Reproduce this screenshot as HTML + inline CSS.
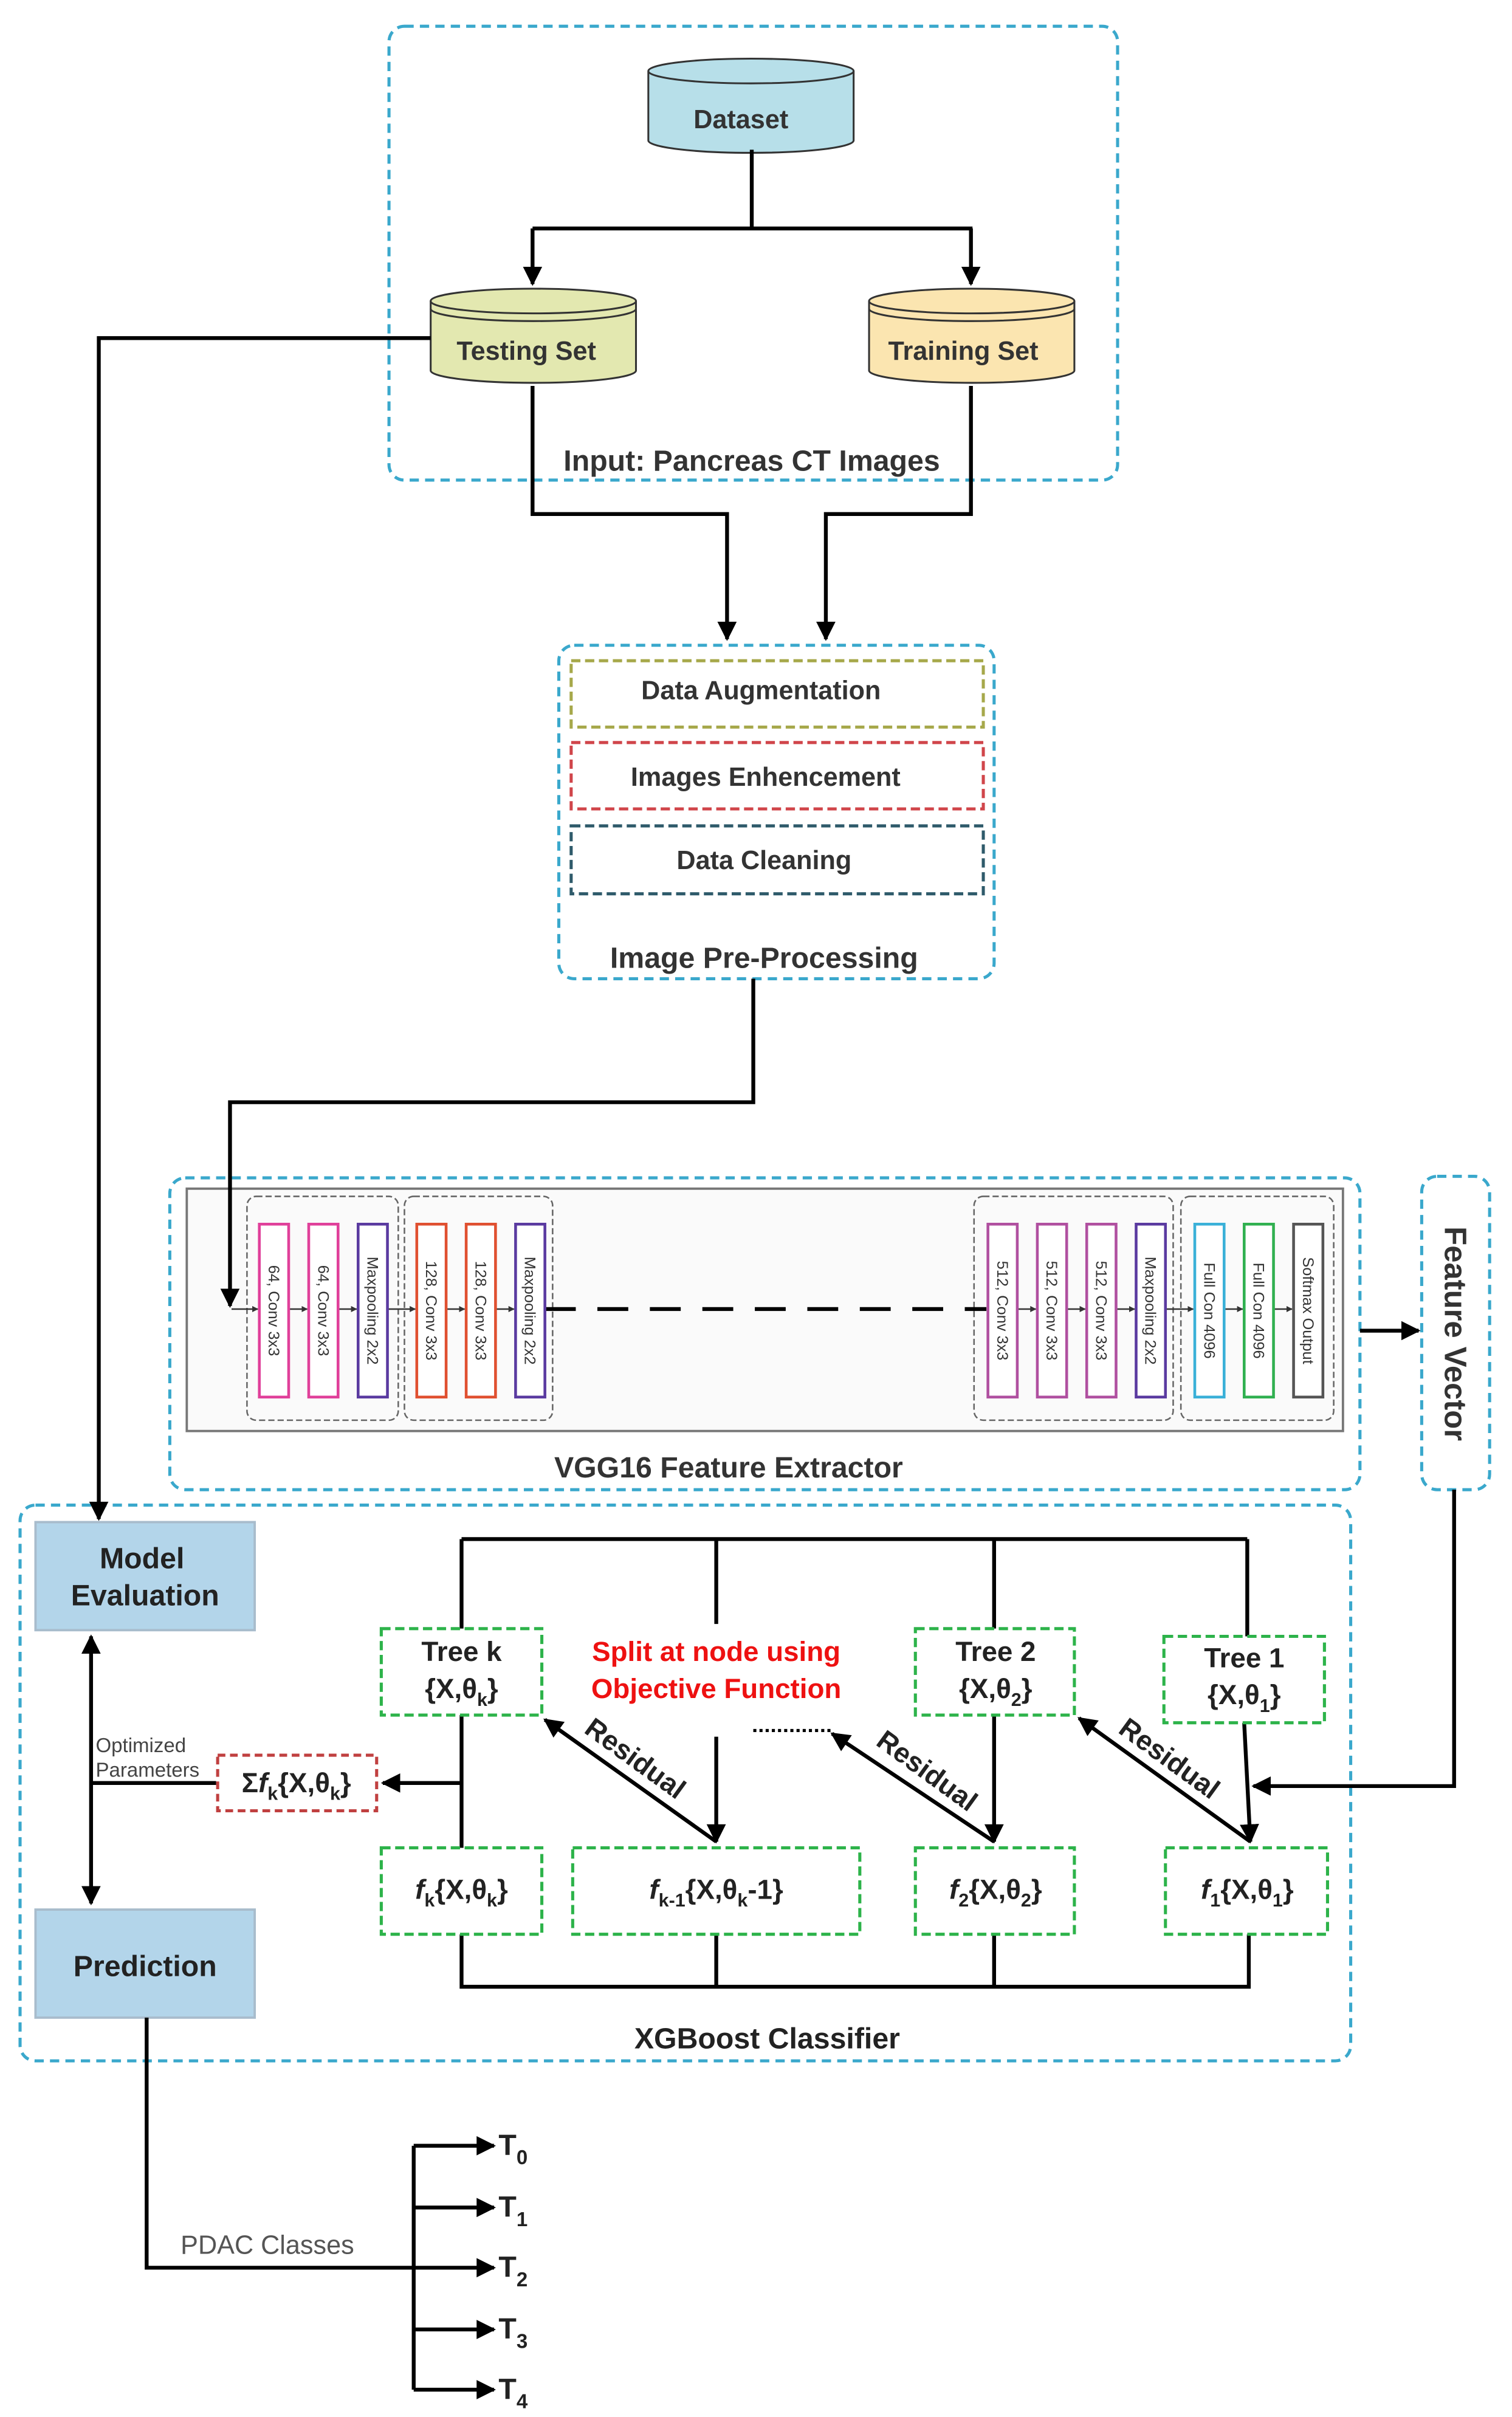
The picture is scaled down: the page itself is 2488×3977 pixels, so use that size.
<!DOCTYPE html>
<html><head><meta charset="utf-8"><style>
html,body{margin:0;padding:0;background:#fff;}
svg{display:block;}
text{font-family:"Liberation Sans",Arial,sans-serif;}
</style></head><body>
<svg width="2488" height="3977" viewBox="0 0 979.5 1565.7" preserveAspectRatio="none" xmlns="http://www.w3.org/2000/svg">
<defs>
<marker id="a" viewBox="0 0 10 10" refX="9" refY="5" markerWidth="5" markerHeight="5" orient="auto-start-reverse" markerUnits="strokeWidth"><path d="M0,0 L10,5 L0,10 z" fill="#000"/></marker>
<marker id="s" viewBox="0 0 10 10" refX="9" refY="5" markerWidth="4" markerHeight="4" orient="auto" markerUnits="strokeWidth"><path d="M0,0 L10,5 L0,10 z" fill="#333"/></marker>
</defs>
<g fill="none" stroke="#3aa8cc" stroke-width="2" stroke-dasharray="6,4">
<rect x="252" y="17" width="472" height="294" rx="10"/>
<rect x="362" y="418" width="282" height="216" rx="10"/>
<rect x="110" y="763" width="771" height="202" rx="10"/>
<rect x="921" y="762" width="44" height="203" rx="10"/>
<rect x="13" y="975" width="862" height="360" rx="10"/>
</g>
<g stroke="#333" stroke-width="1.2">
<path d="M420,46 v45 a66.5,8 0 0 0 133,0 v-45" fill="#b7dfe9"/>
<ellipse cx="486.5" cy="46" rx="66.5" ry="8" fill="#b7dfe9"/>
<path d="M279,195 v45 a66.5,8 0 0 0 133,0 v-45" fill="#e3e8b0"/>
<ellipse cx="345.5" cy="195" rx="66.5" ry="8" fill="#e3e8b0"/>
<path d="M279,200 a66.5,8 0 0 0 133,0" fill="none"/>
<path d="M563,195 v45 a66.5,8 0 0 0 133,0 v-45" fill="#fbe5b0"/>
<ellipse cx="629.5" cy="195" rx="66.5" ry="8" fill="#fbe5b0"/>
<path d="M563,200 a66.5,8 0 0 0 133,0" fill="none"/>
</g>
<g font-weight="bold" fill="#333" font-size="17" text-anchor="middle">
<text x="480" y="83">Dataset</text>
<text x="341" y="233">Testing Set</text>
<text x="624" y="233">Training Set</text>
<text x="487" y="305" font-size="19">Input: Pancreas CT Images</text>
</g>
<!-- preprocessing -->
<g fill="none" stroke-width="2" stroke-dasharray="6,3">
<rect x="370" y="428" width="267" height="43" stroke="#a6a84a"/>
<rect x="370" y="481" width="267" height="43" stroke="#d0454a"/>
<rect x="370" y="535" width="267" height="44" stroke="#2e5a6a"/>
</g>
<g font-weight="bold" fill="#333" font-size="17" text-anchor="middle">
<text x="493" y="453">Data Augmentation</text>
<text x="496" y="509">Images Enhencement</text>
<text x="495" y="563">Data Cleaning</text>
<text x="495" y="627" font-size="19">Image Pre-Processing</text>
</g>
<!-- VGG -->
<rect x="121" y="770" width="749" height="157" fill="#fafafa" stroke="#777" stroke-width="1.5"/>
<g fill="none" stroke="#666" stroke-width="1" stroke-dasharray="4,2">
<rect x="160" y="775" width="98" height="145" rx="6"/>
<rect x="262" y="775" width="96" height="145" rx="6"/>
<rect x="631" y="775" width="129" height="145" rx="6"/>
<rect x="765" y="775" width="99" height="145" rx="6"/>
</g>
<g stroke="#333" stroke-width="1" fill="none">
<path d="M150,848 H167" marker-end="url(#s)"/>
<path d="M187,848 H199" marker-end="url(#s)"/>
<path d="M219,848 H231" marker-end="url(#s)"/>
<path d="M251,848 H269" marker-end="url(#s)"/>
<path d="M289,848 H301" marker-end="url(#s)"/>
<path d="M321,848 H333" marker-end="url(#s)"/>
<path d="M659,848 H671" marker-end="url(#s)"/>
<path d="M691,848 H703" marker-end="url(#s)"/>
<path d="M723,848 H735" marker-end="url(#s)"/>
<path d="M755,848 H773" marker-end="url(#s)"/>
<path d="M793,848 H805" marker-end="url(#s)"/>
<path d="M825,848 H837" marker-end="url(#s)"/>
</g>
<path d="M353,848 H639" stroke="#000" stroke-width="2.5" stroke-dasharray="20,14" fill="none"/>
<g stroke-width="1.8" fill="#fff">
<rect x="168" y="793" width="19" height="112" stroke="#e0409a"/>
<rect x="200" y="793" width="19" height="112" stroke="#e0409a"/>
<rect x="232" y="793" width="19" height="112" stroke="#5a3aa0"/>
<rect x="270" y="793" width="19" height="112" stroke="#e05030"/>
<rect x="302" y="793" width="19" height="112" stroke="#e05030"/>
<rect x="334" y="793" width="19" height="112" stroke="#5a3aa0"/>
<rect x="640" y="793" width="19" height="112" stroke="#b050a0"/>
<rect x="672" y="793" width="19" height="112" stroke="#b050a0"/>
<rect x="704" y="793" width="19" height="112" stroke="#b050a0"/>
<rect x="736" y="793" width="19" height="112" stroke="#5a3aa0"/>
<rect x="774" y="793" width="19" height="112" stroke="#3ab0d8"/>
<rect x="806" y="793" width="19" height="112" stroke="#30b050"/>
<rect x="838" y="793" width="19" height="112" stroke="#555"/>
</g>
<g font-family="Liberation Serif,serif" font-size="10" fill="#333" text-anchor="middle">
<text transform="translate(174,849) rotate(90)">64, Conv 3x3</text>
<text transform="translate(206,849) rotate(90)">64, Conv 3x3</text>
<text transform="translate(238,849) rotate(90)">Maxpooling 2x2</text>
<text transform="translate(276,849) rotate(90)">128, Conv 3x3</text>
<text transform="translate(308,849) rotate(90)">128, Conv 3x3</text>
<text transform="translate(340,849) rotate(90)">Maxpooling 2x2</text>
<text transform="translate(646,849) rotate(90)">512, Conv 3x3</text>
<text transform="translate(678,849) rotate(90)">512, Conv 3x3</text>
<text transform="translate(710,849) rotate(90)">512, Conv 3x3</text>
<text transform="translate(742,849) rotate(90)">Maxpooling 2x2</text>
<text transform="translate(780,849) rotate(90)">Full Con 4096</text>
<text transform="translate(812,849) rotate(90)">Full Con 4096</text>
<text transform="translate(844,849) rotate(90)">Softmax Output</text>
</g>
<g font-weight="bold" fill="#333" text-anchor="middle">
<text x="472" y="957" font-size="19">VGG16 Feature Extractor</text>
<text transform="translate(936,864) rotate(90)" font-size="20">Feature Vector</text>
</g>
<!-- connectors -->
<g fill="none" stroke="#000" stroke-width="2.5">
<path d="M487,97 V148 M345,148 H630"/>
<path d="M345,148 V184" marker-end="url(#a)"/>
<path d="M629,148 V184" marker-end="url(#a)"/>
<path d="M345,250 V333 H471 V414" marker-end="url(#a)"/>
<path d="M629,250 V333 H535 V414" marker-end="url(#a)"/>
<path d="M279,219 H64 V984" marker-end="url(#a)"/>
<path d="M488,634 V714 H149 V846" marker-end="url(#a)"/>
<path d="M881,862 H919" marker-end="url(#a)"/>
<path d="M942,965 V1157 H812" marker-end="url(#a)"/>
</g>
<!-- XGBoost -->
<rect x="23" y="986" width="142" height="70" fill="#b3d5ea" stroke="#a8bccc" stroke-width="1.5"/>
<rect x="23" y="1237" width="142" height="70" fill="#b3d5ea" stroke="#a8bccc" stroke-width="1.5"/>
<g font-weight="bold" fill="#222" text-anchor="middle" font-size="19">
<text x="92" y="1016">Model</text>
<text x="94" y="1040">Evaluation</text>
<text x="94" y="1280">Prediction</text>
<text x="497" y="1327">XGBoost Classifier</text>
</g>
<g fill="none" stroke="#000" stroke-width="2.5">
<path d="M59,1060 V1233" marker-start="url(#a)" marker-end="url(#a)"/>
<path d="M59,1155 H140"/>
<path d="M299,1155 H248" marker-end="url(#a)"/>
<path d="M299,997 H808 M299,997 V1055 M464,997 V1052 M644,997 V1055 M808,997 V1060"/>
<path d="M464,1125 V1193" marker-end="url(#a)"/>
<path d="M299,1111 V1197"/>
<path d="M644,1111 V1193" marker-end="url(#a)"/>
<path d="M806,1116 L810,1193" marker-end="url(#a)"/>
<path d="M464,1193 L353,1114" marker-end="url(#a)"/>
<path d="M644,1193 L539,1123" marker-end="url(#a)"/>
<path d="M810,1193 L699,1113" marker-end="url(#a)"/>
<path d="M299,1253 V1287 H809 V1253 M464,1253 V1287 M644,1253 V1287"/>
<path d="M95,1307 V1469 H268 M268,1390 V1548"/>
<path d="M268,1390 H320" marker-end="url(#a)"/>
<path d="M268,1430 H320" marker-end="url(#a)"/>
<path d="M268,1469 H320" marker-end="url(#a)"/>
<path d="M268,1509 H320" marker-end="url(#a)"/>
<path d="M268,1548 H320" marker-end="url(#a)"/>
</g>
<path d="M488,1121 H540" stroke="#000" stroke-width="2" stroke-dasharray="2,2"/>
<rect x="141" y="1137" width="103" height="36" fill="#fff" stroke="#c04040" stroke-width="2" stroke-dasharray="5,3"/>
<g fill="#fff" stroke="#2db34a" stroke-width="2" stroke-dasharray="6,3">
<rect x="247" y="1055" width="104" height="56"/>
<rect x="593" y="1055" width="103" height="56"/>
<rect x="754" y="1060" width="104" height="56"/>
<rect x="247" y="1197" width="104" height="56"/>
<rect x="371" y="1197" width="186" height="56"/>
<rect x="593" y="1197" width="103" height="56"/>
<rect x="755" y="1197" width="105" height="56"/>
</g>
<g fill="#222" text-anchor="middle" font-size="18" font-weight="bold">
<text x="299" y="1076">Tree k</text>
<text x="299" y="1100">{X,θ<tspan font-size="12" dy="5">k</tspan><tspan dy="-5">}</tspan></text>
<text x="645" y="1076">Tree 2</text>
<text x="645" y="1100">{X,θ<tspan font-size="12" dy="5">2</tspan><tspan dy="-5">}</tspan></text>
<text x="806" y="1080">Tree 1</text>
<text x="806" y="1104">{X,θ<tspan font-size="12" dy="5">1</tspan><tspan dy="-5">}</tspan></text>
<text x="299" y="1230"><tspan font-style="italic">f</tspan><tspan font-size="12" dy="5">k</tspan><tspan dy="-5">{X,θ</tspan><tspan font-size="12" dy="5">k</tspan><tspan dy="-5">}</tspan></text>
<text x="464" y="1230"><tspan font-style="italic">f</tspan><tspan font-size="12" dy="5">k-1</tspan><tspan dy="-5">{X,θ</tspan><tspan font-size="12" dy="5">k</tspan><tspan dy="-5">-1}</tspan></text>
<text x="645" y="1230"><tspan font-style="italic">f</tspan><tspan font-size="12" dy="5">2</tspan><tspan dy="-5">{X,θ</tspan><tspan font-size="12" dy="5">2</tspan><tspan dy="-5">}</tspan></text>
<text x="808" y="1230"><tspan font-style="italic">f</tspan><tspan font-size="12" dy="5">1</tspan><tspan dy="-5">{X,θ</tspan><tspan font-size="12" dy="5">1</tspan><tspan dy="-5">}</tspan></text>
<text x="192" y="1161">Σ<tspan font-style="italic">f</tspan><tspan font-size="12" dy="5">k</tspan><tspan dy="-5">{X,θ</tspan><tspan font-size="12" dy="5">k</tspan><tspan dy="-5">}</tspan></text>
<text x="464" y="1076" fill="#ee1111">Split at node using</text>
<text x="464" y="1100" fill="#ee1111">Objective Function</text>
<text transform="translate(408,1144) rotate(36)">Residual</text>
<text transform="translate(597,1152) rotate(36)">Residual</text>
<text transform="translate(754,1144) rotate(36)">Residual</text>
</g>
<g fill="#444" font-size="13">
<text x="62" y="1135">Optimized</text>
<text x="62" y="1151">Parameters</text>
<text x="117" y="1460" font-size="17" fill="#555">PDAC Classes</text>
</g>
<g fill="#222" font-size="19" font-weight="bold">
<text x="323" y="1396">T<tspan font-size="13" dy="6">0</tspan></text>
<text x="323" y="1436">T<tspan font-size="13" dy="6">1</tspan></text>
<text x="323" y="1475">T<tspan font-size="13" dy="6">2</tspan></text>
<text x="323" y="1515">T<tspan font-size="13" dy="6">3</tspan></text>
<text x="323" y="1554">T<tspan font-size="13" dy="6">4</tspan></text>
</g>
</svg>
</body></html>
